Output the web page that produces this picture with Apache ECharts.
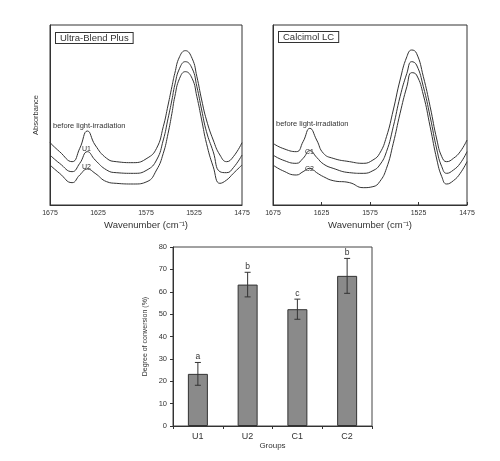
<!DOCTYPE html>
<html><head><meta charset="utf-8">
<script src="https://cdn.jsdelivr.net/npm/echarts@6/dist/echarts.min.js"></script>
<style>html,body{margin:0;padding:0;background:#fff}#c{width:500px;height:461px}</style>
</head><body><div id="c"></div>
<script>
// ---- Spectra (absorbance, arbitrary units) ----
const wnUltra = [1675,1665,1652,1644,1636,1628,1616,1606,1588,1574,1564,1557,1552,1548,1545,1540,1534,1527,1522,1517,1512,1505,1498,1491,1484,1475];
const ultraBefore = [187,160,130,170,222,180,140,130,127,140,170,235,300,355,395,445,463,440,385,315,255,195,150,130,145,187];
const ultraU1 = [150,125,100,125,160,135,105,97,95,105,135,195,260,315,360,410,430,410,355,285,220,160,100,97,112,150];
const ultraU2 = [120,95,67,90,108,95,70,65,63,70,105,155,215,275,325,380,400,380,325,255,185,115,65,75,95,120];

const wnCalc = [1675,1665,1651,1644,1637,1630,1623,1613,1596,1582,1572,1565,1558,1551,1544,1537,1532,1527,1520,1513,1506,1501,1496,1489,1482,1475];
const calcBefore = [185,170,160,190,230,195,155,140,130,125,135,155,205,285,375,445,465,455,385,295,195,145,130,140,160,195];
const calcC1 = [150,135,125,140,163,143,123,110,97,95,103,120,160,235,325,395,430,420,355,265,165,115,95,105,125,160];
const calcC2 = [120,103,90,100,110,97,85,73,67,52,55,70,110,185,275,355,397,390,330,235,135,85,63,73,95,130];

// ---- Degree of conversion ----
const groups = ['U1','U2','C1','C2'];
const dcMean = [23.3, 63.2, 52.2, 67.1];
const dcSD = [5.1, 5.5, 4.5, 7.8];
const dcLetters = ['a','b','c','b'];

const FONT = 'Liberation Sans';
const pair = (xs, ys) => xs.map((x, i) => [x, ys[i]]);

const chart = echarts.init(document.getElementById('c'));

function specX(idx, inside) {
  return {
    gridIndex: idx, type: 'value', min: 1475, max: 1675, interval: 50, inverse: true,
    name: 'Wavenumber (cm\u207B\u00B9)', nameLocation: 'middle', nameGap: 15,
    nameTextStyle: { fontFamily: FONT, fontSize: 9.5, color: '#333' },
    axisLine: { show: true, lineStyle: { color: '#333', width: 1 } },
    axisTick: { show: inside, inside: true, length: 3, lineStyle: { color: '#333' } },
    axisLabel: { fontFamily: FONT, fontSize: 7, color: '#333', margin: 5, showMinLabel: true, showMaxLabel: true,
      formatter: v => String(v) },
    splitLine: { show: false }
  };
}
function specY(idx, name) {
  return {
    gridIndex: idx, type: 'value', min: 0, max: 540,
    name: name, nameLocation: 'middle', nameGap: 10, nameRotate: 90,
    nameTextStyle: { fontFamily: FONT, fontSize: 7.5, color: '#333' },
    axisLine: { show: true, lineStyle: { color: '#333' } },
    axisTick: { show: false }, axisLabel: { show: false }, splitLine: { show: false }
  };
}
function specLine(idx, xs, ys) {
  return {
    type: 'line', xAxisIndex: idx, yAxisIndex: idx, data: pair(xs, ys),
    symbol: 'none', smooth: 0.5, lineStyle: { color: '#333', width: 1 }, silent: true
  };
}

const option = {
  animation: false,
  backgroundColor: '#fff',
  grid: [
    { left: 50, top: 25, width: 192, height: 180, show: true, borderColor: '#333', borderWidth: 1 },
    { left: 273, top: 25, width: 194, height: 180, show: true, borderColor: '#333', borderWidth: 1 },
    { left: 173, top: 247, width: 199, height: 179, show: true, borderColor: '#444', borderWidth: 1 }
  ],
  xAxis: [
    specX(0, false),
    specX(1, true),
    {
      gridIndex: 2, type: 'category', data: groups,
      name: 'Groups', nameLocation: 'middle', nameGap: 16,
      nameTextStyle: { fontFamily: FONT, fontSize: 8, color: '#333' },
      axisLine: { lineStyle: { color: '#333' } },
      axisTick: { show: true, length: 3, lineStyle: { color: '#333' } },
      axisLabel: { fontFamily: FONT, fontSize: 9, color: '#333', margin: 6 }
    }
  ],
  yAxis: [
    specY(0, 'Absorbance'),
    specY(1, ''),
    {
      gridIndex: 2, type: 'value', min: 0, max: 80, interval: 10,
      name: 'Degree of conversion (%)', nameLocation: 'middle', nameGap: 24, nameRotate: 90,
      nameTextStyle: { fontFamily: FONT, fontSize: 7, color: '#333' },
      axisLine: { show: true, lineStyle: { color: '#333' } },
      axisTick: { show: true, length: 3, lineStyle: { color: '#333' } },
      axisLabel: { fontFamily: FONT, fontSize: 7.5, color: '#333', margin: 6 },
      splitLine: { show: false }
    }
  ],
  series: [
    specLine(0, wnUltra, ultraBefore),
    specLine(0, wnUltra, ultraU1),
    specLine(0, wnUltra, ultraU2),
    specLine(1, wnCalc, calcBefore),
    specLine(1, wnCalc, calcC1),
    specLine(1, wnCalc, calcC2),
    {
      type: 'bar', xAxisIndex: 2, yAxisIndex: 2, data: dcMean, barWidth: 20,
      itemStyle: { color: '#8a8a8a', borderColor: '#333', borderWidth: 1 }, silent: true
    },
    {
      type: 'custom', xAxisIndex: 2, yAxisIndex: 2, silent: true, z: 5,
      data: groups.map((g, i) => [i, dcMean[i] - dcSD[i], dcMean[i] + dcSD[i]]),
      renderItem: function (params, api) {
        const i = api.value(0);
        const lo = api.coord([i, api.value(1)]);
        const hi = api.coord([i, api.value(2)]);
        const x = lo[0], w = 3;
        const ls = { stroke: '#333', lineWidth: 1 };
        return {
          type: 'group', children: [
            { type: 'line', shape: { x1: x, y1: lo[1], x2: x, y2: hi[1] }, style: ls },
            { type: 'line', shape: { x1: x - w, y1: lo[1], x2: x + w, y2: lo[1] }, style: ls },
            { type: 'line', shape: { x1: x - w, y1: hi[1], x2: x + w, y2: hi[1] }, style: ls },
            { type: 'text', style: { text: dcLetters[i], x: x, y: hi[1] - 1, align: 'center', verticalAlign: 'bottom', fontFamily: FONT, fontSize: 8.5, fill: '#333' } }
          ]
        };
      }
    }
  ],
  graphic: [
    { type: 'text', left: 55, top: 32, style: { text: 'Ultra-Blend Plus', fontFamily: FONT, fontSize: 9.5, lineHeight: 10, fill: '#333', borderColor: '#333', borderWidth: 1, padding: [0, 4, 0, 4], backgroundColor: '#fff' } },
    { type: 'text', left: 278, top: 31, style: { text: 'Calcimol LC', fontFamily: FONT, fontSize: 9.5, lineHeight: 10, fill: '#333', borderColor: '#333', borderWidth: 1, padding: [0, 4, 0, 4], backgroundColor: '#fff' } },
    { type: 'text', left: 53, top: 122, style: { text: 'before light-irradiation', fontFamily: FONT, fontSize: 7.5, fill: '#333' } },
    { type: 'text', left: 82, top: 146, style: { text: 'U1', fontFamily: FONT, fontSize: 7, fill: '#333' } },
    { type: 'text', left: 82, top: 164, style: { text: 'U2', fontFamily: FONT, fontSize: 7, fill: '#333' } },
    { type: 'text', left: 276, top: 120, style: { text: 'before light-irradiation', fontFamily: FONT, fontSize: 7.5, fill: '#333' } },
    { type: 'text', left: 305, top: 149, style: { text: 'C1', fontFamily: FONT, fontSize: 7, fill: '#333' } },
    { type: 'text', left: 305, top: 166, style: { text: 'C2', fontFamily: FONT, fontSize: 7, fill: '#333' } }
  ]
};
chart.setOption(option);
</script>
</body></html>
